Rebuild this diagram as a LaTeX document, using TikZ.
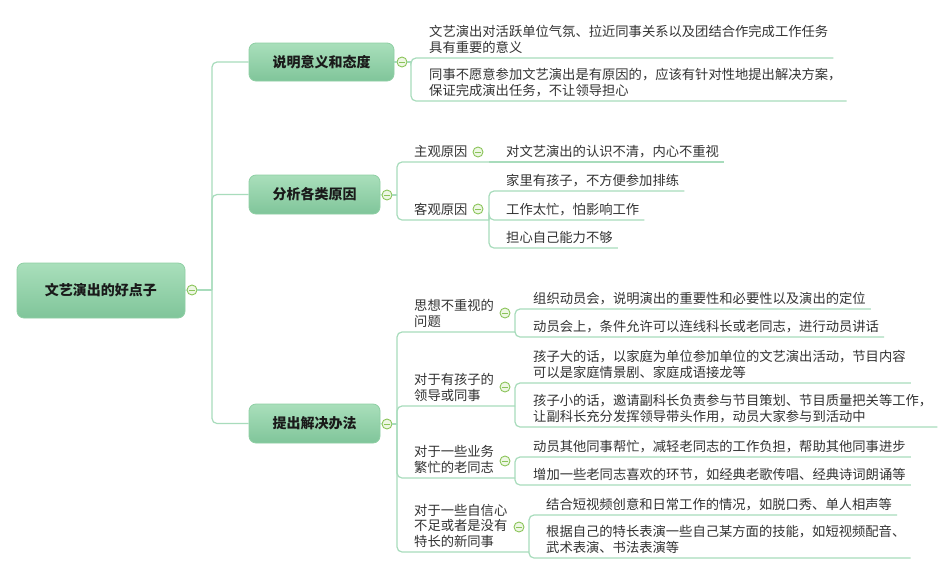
\documentclass[tikz,border=0pt]{standalone}
\usepackage{fontspec}
\newfontfamily\cjk{Noto Sans CJK SC}

\definecolor{boxtop}{HTML}{A9DFBB}
\definecolor{boxbot}{HTML}{80C59A}
\definecolor{boxline}{HTML}{8FCFA4}
\definecolor{linkc}{HTML}{A8DCBC}
\definecolor{foldline}{HTML}{8BC45A}
\definecolor{foldfill}{HTML}{EEF7E4}
\definecolor{leaftext}{HTML}{333333}
\definecolor{topictext}{HTML}{1A1A1A}

\begin{document}
\begin{tikzpicture}[x=1pt,y=-1pt,
    topic/.style={draw=boxline,line width=0.8pt,rounded corners=7pt,
        top color=boxtop,bottom color=boxbot,text=topictext,inner sep=0pt,
        font=\cjk\fontsize{14}{16}\selectfont\bfseries},
    fold/.style={circle,draw=foldline,fill=foldfill,line width=0.9pt,
        minimum size=10pt,inner sep=0pt,
        path picture={\draw[foldline,line width=1pt]
            ([xshift=-3pt]path picture bounding box.center) --
            ([xshift=3pt]path picture bounding box.center);}},
    leaf/.style={font=\cjk\fontsize{13.3}{15.5}\selectfont,text=leaftext,
        align=left,inner sep=0pt,anchor=south west,
        execute at begin node=\strut,execute at end node=\strut},
    link/.style={draw=linkc,line width=1.2pt,rounded corners=5pt}]
        \useasboundingbox (0,0) rectangle (946,566);
        \fill[white] (0,0) rectangle (946,566);

        % Root topic
        \node[topic,minimum width=168pt,minimum height=55pt] (root) at (101,290.5) {文艺演出的好点子};
        \node[fold] (froot) at (192,290) {};
        \coordinate (jroot) at (212,290);

        % Main branches
        \node[topic,minimum width=145pt,minimum height=38pt] (sm) at (321.5,62) {说明意义和态度};
        \node[topic,minimum width=131pt,minimum height=39pt] (fx) at (314.5,194.5) {分析各类原因};
        \node[topic,minimum width=131pt,minimum height=39pt] (tc) at (314.5,423.5) {提出解决办法};
        \node[fold] (fsm) at (402,62) {};
        \node[fold] (ffx) at (387,195) {};
        \node[fold] (ftc) at (387,424) {};

        \draw[link] (root.east) -- (froot.west);
        \draw[link] (froot.east) -- (jroot);
        \foreach \t in {sm,fx,tc}
            \draw[link] (jroot) |- (\t.west);
        \foreach \t in {sm,fx,tc}
            \draw[link] (\t.east) -- (f\t.west);

        % Branch 1
        \coordinate (jsm) at (411,62);
        \draw[link] (fsm.east) -- (jsm);
        \node[leaf] (sm1) at (429,57) {文艺演出对活跃单位气氛、拉近同事关系以及团结合作完成工作任务\\具有重要的意义};
        \node[leaf] (sm2) at (429,100) {同事不愿意参加文艺演出是有原因的，应该有针对性地提出解决方案，\\保证完成演出任务，不让领导担心};
        \foreach \t in {sm1,sm2}
            \draw[link] (jsm) |- ([shift={(5,1)}]\t.south east);

        % Branch 2
        \coordinate (jfx) at (397,195);
        \draw[link] (ffx.east) -- (jfx);
        \node[leaf] (zg) at (414,161) {主观原因};
        \node[leaf] (kg) at (414,219) {客观原因};
        \node[fold] (fzg) at (478,152) {};
        \node[fold] (fkg) at (478,209) {};
        \coordinate (jzg) at (489,162);
        \coordinate (jkg) at (489,220);
        \draw[link] (jfx) |- (jzg);
        \draw[link] (jfx) |- (jkg);

        \node[leaf] (zg1) at (506,161) {对文艺演出的认识不清，内心不重视};
        \draw[link] (jzg) -- ([shift={(5,1)}]zg1.south east);
        \node[leaf] (kg1) at (506,190) {家里有孩子，不方便参加排练};
        \node[leaf] (kg2) at (506,219) {工作太忙，怕影响工作};
        \node[leaf] (kg3) at (506,247) {担心自己能力不够};
        \foreach \t in {kg1,kg2,kg3}
            \draw[link] (jkg) |- ([shift={(5,1)}]\t.south east);

        % Branch 3
        \coordinate (jtc) at (397,424);
        \draw[link] (ftc.east) -- (jtc);
        \node[leaf] (sx) at (414,331) {思想不重视的\\问题};
        \node[leaf] (hz) at (414,405) {对于有孩子的\\领导或同事};
        \node[leaf] (lz) at (414,477) {对于一些业务\\繁忙的老同志};
        \node[leaf] (xt) at (414,551) {对于一些自信心\\不足或者是没有\\特长的新同事};
        \node[fold] (fsx) at (505,313) {};
        \node[fold] (fhz) at (505,387) {};
        \node[fold] (flz) at (505,461) {};
        \node[fold] (fxt) at (519,527) {};
        \coordinate (jsx) at (515,332);
        \coordinate (jhz) at (515,406);
        \coordinate (jlz) at (515,478);
        \coordinate (jxt) at (529,552);
        \foreach \t in {jsx,jhz,jlz,jxt}
            \draw[link] (jtc) |- (\t);

        \node[leaf] (sx1) at (533,308) {组织动员会，说明演出的重要性和必要性以及演出的定位};
        \node[leaf] (sx2) at (533,336) {动员会上，条件允许可以连线科长或老同志，进行动员讲话};
        \node[leaf] (hz1) at (533,382) {孩子大的话，以家庭为单位参加单位的文艺演出活动，节目内容\\可以是家庭情景剧、家庭成语接龙等};
        \node[leaf] (hz2) at (533,426) {孩子小的话，邀请副科长负责参与节目策划、节目质量把关等工作，\\让副科长充分发挥领导带头作用，动员大家参与到活动中};
        \node[leaf] (lz1) at (533,456) {动员其他同事帮忙，减轻老同志的工作负担，帮助其他同事进步};
        \node[leaf] (lz2) at (533,484) {增加一些老同志喜欢的环节，如经典老歌传唱、经典诗词朗诵等};
        \node[leaf] (xt1) at (546,514) {结合短视频创意和日常工作的情况，如脱口秀、单人相声等};
        \node[leaf] (xt2) at (546,557) {根据自己的特长表演一些自己某方面的技能，如短视频配音、\\武术表演、书法表演等};
        \foreach \p/\c in {jsx/sx1,jsx/sx2,jhz/hz1,jhz/hz2,jlz/lz1,jlz/lz2,jxt/xt1,jxt/xt2}
            \draw[link] (\p) |- ([shift={(5,1)}]\c.south east);
    \end{tikzpicture}
\end{document}
